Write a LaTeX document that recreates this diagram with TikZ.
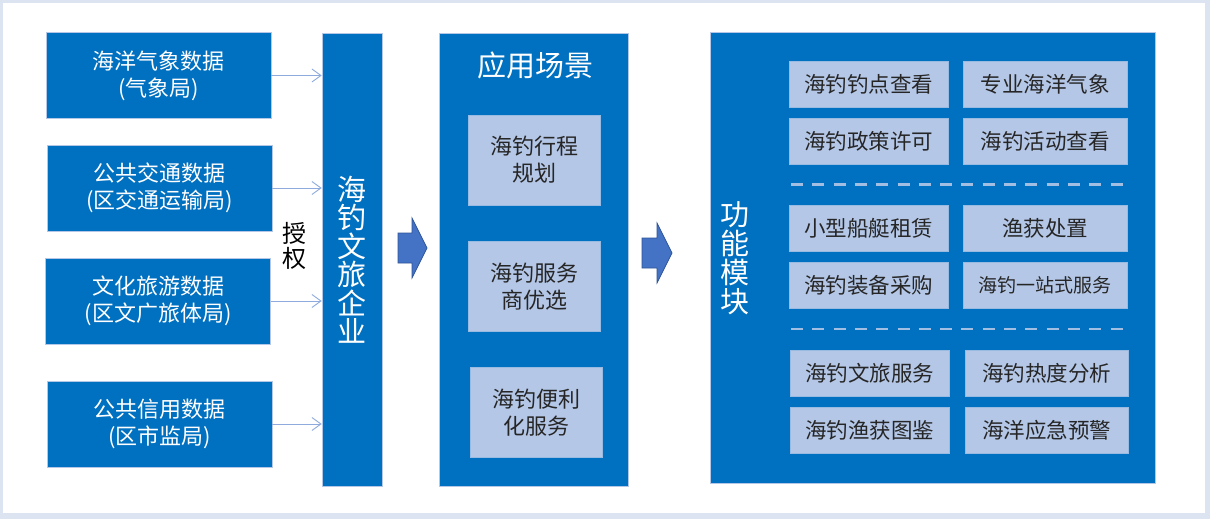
\documentclass[tikz,border=0pt]{standalone}
\usepackage{fontspec}
\setmainfont{Noto Sans CJK SC}
\usetikzlibrary{arrows.meta}
\definecolor{deepblue}{HTML}{0070C0}
\definecolor{paleblue}{HTML}{B4C7E7}
\definecolor{linkblue}{HTML}{8FAADC}
\definecolor{frameblue}{HTML}{DCE4F2}
\definecolor{blockblue}{HTML}{4472C4}
\definecolor{blockedge}{HTML}{2F5597}
\definecolor{inktext}{HTML}{262626}
\tikzset{
	srcbox/.style={fill=deepblue, draw=paleblue, line width=0.6pt, text=white, minimum width=225pt, minimum height=86pt, inner sep=0pt, align=center, font=\fontsize{22}{27}\selectfont},
	panel/.style={fill=deepblue, draw=paleblue, line width=0.6pt, inner sep=0pt},
	scenebox/.style={fill=paleblue, draw=paleblue!85!deepblue, line width=0.6pt, text=inktext, minimum width=132pt, minimum height=90pt, inner sep=0pt, align=center, font=\fontsize{22}{27}\selectfont},
	itembox/.style={fill=paleblue, draw=paleblue!85!deepblue, line width=0.6pt, text=inktext, minimum height=46pt, inner sep=0pt, font=\fontsize{21.5}{24}\selectfont},
	feed/.style={draw=linkblue, line width=0.9pt, -{Straight Barb[length=9pt,width=13pt,line width=0.9pt]}},
	rowsep/.style={draw=paleblue!90!deepblue, line width=2.6pt, dash pattern=on 12pt off 9.3pt},
	bigarrow/.style={fill=blockblue, draw=blockedge, line width=0.7pt, line join=miter}
}
\begin{document}
\begin{tikzpicture}[x=1pt, y=-1pt]
% frame
\fill[frameblue] (0,0) rectangle (1210,519);
\fill[white] (3,3) rectangle (1205,513);
\useasboundingbox (0,0) rectangle (1210,519);

% data sources
\node[srcbox] (src1) at (158.5,75.5) {海洋气象数据\\(气象局)};
\node[srcbox] (src2) at (159.5,188) {公共交通数据\\(区交通运输局)};
\node[srcbox] (src3) at (158,301) {文化旅游数据\\(区文广旅体局)};
\node[srcbox] (src4) at (159.5,424) {公共信用数据\\(区市监局)};
\node[align=center, font=\fontsize{24}{25}\selectfont] (auth) at (294,246) {授\\权};

% enterprise
\node[panel, minimum width=60pt, minimum height=453pt] (ent) at (352,259.5) {};
\node[text=white, align=center, font=\fontsize{29}{28.5}\selectfont] (entname) at (ent.center) {海\\钓\\文\\旅\\企\\业};
\foreach \i in {1,...,4}
{
	\draw[feed] (src\i.east) -- (src\i.east -| ent.west);
}

% scenes
\draw[bigarrow] (398,233) -- (412,233) -- (412,218) -- (427,248) -- (412,278) -- (412,263) -- (398,263) -- cycle;
\node[panel, minimum width=189pt, minimum height=453pt] (scene) at (533.5,259.5) {};
\node[text=white, font=\fontsize{29}{30}\selectfont] (scenetitle) at (535,65) {应用场景};
\node[scenebox] (sc1) at (534,160) {海钓行程\\规划};
\node[scenebox] (sc2) at (534,286.5) {海钓服务\\商优选};
\node[scenebox] (sc3) at (536,412.5) {海钓便利\\化服务};

% function modules
\draw[bigarrow] (642,238) -- (657,238) -- (657,223) -- (672,253) -- (657,283) -- (657,268) -- (642,268) -- cycle;
\node[panel, minimum width=445pt, minimum height=451pt] (func) at (932.5,258) {};
\node[text=white, align=center, font=\fontsize{29}{29}\selectfont] (functitle) at (735,258) {功\\能\\模\\块};
\node[itembox, minimum width=159pt] (fa1) at (868.5,84.5) {海钓钓点查看};
\node[itembox, minimum width=164pt] (fb1) at (1045,84.5) {专业海洋气象};
\node[itembox, minimum width=159pt] (fa2) at (868.5,141.5) {海钓政策许可};
\node[itembox, minimum width=164pt] (fb2) at (1045,141.5) {海钓活动查看};
\draw[rowsep] (791,184.5) -- (1124,184.5);
\node[itembox, minimum width=159pt] (fa3) at (868.5,228) {小型船艇租赁};
\node[itembox, minimum width=164pt] (fb3) at (1045,228) {渔获处置};
\node[itembox, minimum width=159pt] (fa4) at (868.5,285.5) {海钓装备采购};
\node[itembox, minimum width=164pt, font=\fontsize{19}{22}\selectfont] (fb4) at (1045,285.5) {海钓一站式服务};
\draw[rowsep] (791,329) -- (1124,329);
\node[itembox, minimum width=159pt] (fa5) at (869.5,373) {海钓文旅服务};
\node[itembox, minimum width=163pt] (fb5) at (1046.5,373) {海钓热度分析};
\node[itembox, minimum width=159pt] (fa6) at (869.5,430.5) {海钓渔获图鉴};
\node[itembox, minimum width=163pt] (fb6) at (1046.5,430.5) {海洋应急预警};
\end{tikzpicture}
\end{document}
